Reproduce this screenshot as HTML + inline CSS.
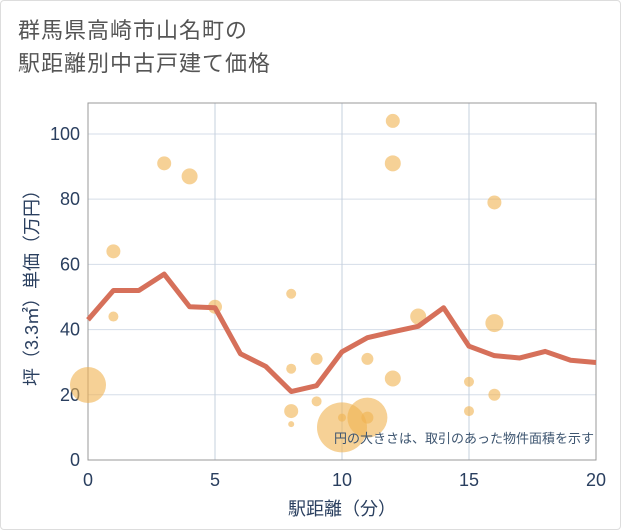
<!DOCTYPE html>
<html><head><meta charset="utf-8"><style>
body{margin:0;background:#fff;font-family:"Liberation Sans","Noto Sans CJK JP",sans-serif;}
.wrap{position:relative;width:619px;height:528px;border:1px solid #ddd;border-radius:4px;overflow:hidden;background:#fff}
.title{position:absolute;left:17px;top:13px;font-size:22px;line-height:33px;color:#555;letter-spacing:1px}
</style></head><body>
<div class="wrap">
<div class="title">群馬県高崎市山名町の<br>駅距離別中古戸建て価格</div>
<svg id="c" width="621" height="530" style="position:absolute;left:-1px;top:-1px"></svg>
</div>
<script>
const lineX=[0,1,2,3,4,5,6,7,8,9,10,11,12,13,14,15,16,17,18,19,20];
const lineY=[43,52,52,57,47,46.7,32.6,28.7,21,22.8,33.2,37.5,39.3,41,46.7,34.9,32,31.3,33.3,30.6,29.9];
const bubX=[0,1,1,3,4,5,8,8,8,8,9,9,10,10,11,11,11,12,12,12,13,15,15,16,16,16];
const bubY=[23,64,44,91,87,47,51,28,15,11,31,18,10,13,13,13,31,104,91,25,44,24,15,79,42,20];
const bubR=[18,7,5,7,8,7,5,5,7,3,6,5,25,4,20,6,6,7,8,8,8,5,5,7,9,6];
const xTicks=[0,5,10,15,20];
const yTicks=[0,20,40,60,80,100];
const L=88,R=596,T=103,B=460;
const sx=v=>L+(v-0)/20*(R-L);
const sy=v=>B-v/109.5*(B-T);
const svg=document.getElementById('c');const NS='http://www.w3.org/2000/svg';
function mk(t,a,p){const e=document.createElementNS(NS,t);for(const k in a)e.setAttribute(k,a[k]);(p||svg).appendChild(e);return e;}
const grid=mk('g',{});


yTicks.forEach(v=>{if(v>0){const l=mk('line',{x1:L,x2:R,y1:sy(v),y2:sy(v),stroke:'#d5dde8','stroke-width':1},grid);

}
const t=mk('text',{x:L-8,y:sy(v)+6,'text-anchor':'end','font-size':18,fill:'#2a3f5f'});t.textContent=v;

});
xTicks.forEach(v=>{if(v>0&&v<20){const l=mk('line',{x1:sx(v),x2:sx(v),y1:T,y2:B,stroke:'#c5d0de','stroke-width':1},grid);

}
const t=mk('text',{x:sx(v),y:B+26,'text-anchor':'middle','font-size':18,fill:'#2a3f5f'});t.textContent=v;

});
const box=mk('rect',{x:L,y:T,width:R-L,height:B-T,fill:'none',stroke:'#999','stroke-width':1});


bubX.forEach((x,i)=>{const c=mk('circle',{cx:sx(x),cy:sy(bubY[i]),r:bubR[i],fill:'rgba(240,178,80,0.6)'});

});
const pl=mk('polyline',{points:lineX.map((x,i)=>sx(x)+','+sy(lineY[i])).join(' '),fill:'none',stroke:'#d6705a','stroke-width':5,'stroke-linejoin':'round'});


const note=mk('text',{x:R-2,y:443,'text-anchor':'end','font-size':13,fill:'#3d5570'});note.textContent='円の大きさは、取引のあった物件面積を示す';


const xt=mk('text',{x:(L+R)/2,y:515,'text-anchor':'middle','font-size':18,fill:'#2a3f5f'});xt.textContent='駅距離（分）';


const yt=mk('text',{x:0,y:0,'text-anchor':'middle','font-size':18,fill:'#2a3f5f',transform:'translate(38,'+((T+B)/2+2)+') rotate(-90)'});yt.textContent='坪（3.3㎡）単価（万円）';


</script>
</body></html>
